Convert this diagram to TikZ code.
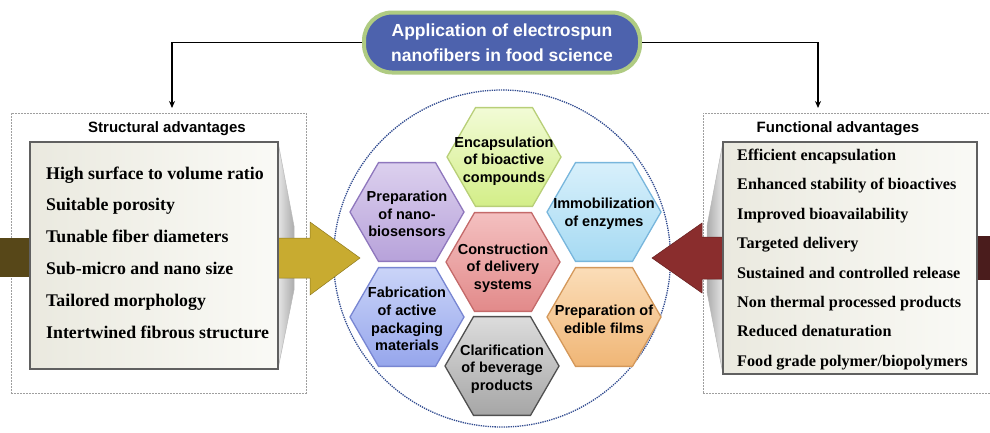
\documentclass[tikz,border=0pt]{standalone}
\usepackage{fontspec}
\setmainfont{Liberation Serif}
\setsansfont{Liberation Sans}
\usetikzlibrary{shapes.geometric,arrows.meta}
\definecolor{titleblue}{HTML}{4D62AD}
\definecolor{titlegreen}{HTML}{AFCB82}
\definecolor{ringblue}{HTML}{2F4A8F}
\definecolor{goldarrow}{HTML}{C8AB30}
\definecolor{goldedge}{HTML}{8F7A1E}
\definecolor{redarrow}{HTML}{8A2D2D}
\definecolor{rededge}{HTML}{661F1F}
\definecolor{olivebar}{HTML}{574718}
\definecolor{maroonbar}{HTML}{4A1C1C}
\definecolor{boxleft}{HTML}{EAE9DF}
\definecolor{boxright}{HTML}{FAFAF6}
\definecolor{HexGreenL}{HTML}{F2FBD6}
\definecolor{HexGreen}{HTML}{D3EE88}
\definecolor{HexGreenD}{HTML}{B8CF78}
\definecolor{HexPurpleL}{HTML}{DCD0EE}
\definecolor{HexPurple}{HTML}{B7A2DA}
\definecolor{HexPurpleD}{HTML}{8F77BD}
\definecolor{HexBlueL}{HTML}{D8F0FB}
\definecolor{HexBlue}{HTML}{A6DAF3}
\definecolor{HexBlueD}{HTML}{78B6DC}
\definecolor{HexRedL}{HTML}{F4C0C0}
\definecolor{HexRed}{HTML}{E28A8A}
\definecolor{HexRedD}{HTML}{C46A6A}
\definecolor{HexVioL}{HTML}{CAD4F8}
\definecolor{HexVio}{HTML}{96A6EC}
\definecolor{HexVioD}{HTML}{7886D2}
\definecolor{HexOrL}{HTML}{FBDDB8}
\definecolor{HexOr}{HTML}{F0B676}
\definecolor{HexOrD}{HTML}{D4985A}
\definecolor{HexGrayL}{HTML}{DCDCDC}
\definecolor{HexGray}{HTML}{A6A6A6}
\definecolor{HexGrayD}{HTML}{505050}
\begin{document}
\begin{tikzpicture}[x=1pt,y=-1pt,
  conn/.style={line width=1.4pt,-{Stealth[length=7pt,width=6pt]}},
  dbox/.style={draw=gray!75,dash pattern=on 1.6pt off 1.4pt,line width=0.8pt,inner sep=0pt,outer sep=0pt},
  ibox/.style={draw=gray!75!black,line width=1.2pt,left color=boxleft,right color=boxright,inner sep=0pt,outer sep=0pt},
  bevel/.style={draw=gray!55,line width=0.5pt},
  hexa/.style={regular polygon,regular polygon sides=6,minimum size=114pt,inner sep=0pt,line width=1.3pt},
  hextxt/.style={font=\sffamily\bfseries\fontsize{14.5}{17.7}\selectfont,align=center,inner sep=0pt,text=black},
  hdr/.style={font=\sffamily\bfseries\fontsize{15}{18}\selectfont,inner sep=0pt},
  litem/.style={font=\rmfamily\bfseries\fontsize{17.8}{20}\selectfont,anchor=base west,inner sep=0pt},
  ritem/.style={font=\rmfamily\bfseries\fontsize{16.2}{19}\selectfont,anchor=base west,inner sep=0pt}
]
\useasboundingbox (0,0) rectangle (990,432);
\clip (0,0) rectangle (990,432);

% title
\node[rounded corners=28pt,minimum width=276pt,minimum height=60pt,fill=titleblue,draw=titlegreen,line width=4pt,
      text=white,font=\sffamily\bfseries\fontsize{17.5}{25}\selectfont,align=center,inner sep=0pt] (title) at (502,42.5)
  {Application of electrospun\\nanofibers in food science};

\coordinate (lt) at (172,108);
\coordinate (rt) at (818,108);
\draw[conn] (title.west) -| (lt);
\draw[conn] (title.east) -| (rt);

% dashed frames
\node[dbox,minimum width=295pt,minimum height=280pt] (ldash) at (158.5,253) {};
\node[dbox,minimum width=300pt,minimum height=280pt] (rdash) at (853,253) {};

% dark tails
\fill[olivebar] (0,238) rectangle (30,277);
\fill[maroonbar] (977,236) rectangle (990,280);

% bevels
\path[bevel,left color=gray!20,right color=gray!65] (278,142) -- (294,226) -- (294,290) -- (278,369) -- cycle;
\path[bevel,left color=gray!65,right color=gray!20] (723,142) -- (707,226) -- (707,292) -- (723,374) -- cycle;

% circle
\node[circle,draw=ringblue,densely dotted,line width=1.3pt,minimum size=337pt,inner sep=0pt] (ring) at (502,258.5) {};

% block arrows
\filldraw[fill=goldarrow,draw=goldedge,line width=0.5pt] (278,238) -- (310,238) -- (310,222) -- (360,258) -- (310,295) -- (310,278) -- (278,278) -- cycle;
\filldraw[fill=redarrow,draw=rededge,line width=0.5pt] (723,237) -- (702,237) -- (702,223) -- (652,258) -- (702,293) -- (702,279) -- (723,279) -- cycle;

% inner boxes
\node[ibox,minimum width=248pt,minimum height=227pt] (lbox) at (154,255.5) {};
\node[ibox,minimum width=254pt,minimum height=232pt] (rbox) at (850,258) {};

\node[hdr] (lhdr) at (167,129) {Structural advantages};
\node[hdr] (rhdr) at (838,129) {Functional advantages};

\foreach \t [count=\i] in {High surface to volume ratio,Suitable porosity,Tunable fiber diameters,Sub-micro and nano size,Tailored morphology,Intertwined fibrous structure}
  \node[litem] (l\i) at (46,{179+31.8*(\i-1)}) {\t};

\foreach \t [count=\i] in {Efficient encapsulation,Enhanced stability of bioactives,Improved bioavailability,Targeted delivery,Sustained and controlled release,Non thermal processed products,Reduced denaturation,Food grade polymer/biopolymers}
  \node[ritem] (r\i) at (737,{160.5+29.4*(\i-1)}) {\t};

% hexagons
\node[hexa,top color=HexGreenL,bottom color=HexGreen,draw=HexGreenD] (h1) at (504,157) {};
\node[hexa,top color=HexPurpleL,bottom color=HexPurple,draw=HexPurpleD] (h2) at (407,212) {};
\node[hexa,top color=HexBlueL,bottom color=HexBlue,draw=HexBlueD] (h3) at (604,212) {};
\node[hexa,top color=HexRedL,bottom color=HexRed,draw=HexRedD] (h4) at (503,262) {};
\node[hexa,top color=HexVioL,bottom color=HexVio,draw=HexVioD] (h5) at (407,317) {};
\node[hexa,top color=HexOrL,bottom color=HexOr,draw=HexOrD] (h6) at (604,317) {};
\node[hexa,top color=HexGrayL,bottom color=HexGray,draw=HexGrayD] (h7) at (502,366) {};

\node[hextxt] (t1) at (504,161) {Encapsulation\\of bioactive\\compounds};
\node[hextxt] (t2) at (407,214) {Preparation\\of nano-\\biosensors};
\node[hextxt] (t3) at (604,214) {Immobilization\\of enzymes};
\node[hextxt] (t4) at (503,268) {Construction\\of delivery\\systems};
\node[hextxt] (t5) at (407,319) {Fabrication\\of active\\packaging\\materials};
\node[hextxt] (t6) at (604,319) {Preparation of\\edible films};
\node[hextxt] (t7) at (502,369) {Clarification\\of beverage\\products};
\end{tikzpicture}
\end{document}
